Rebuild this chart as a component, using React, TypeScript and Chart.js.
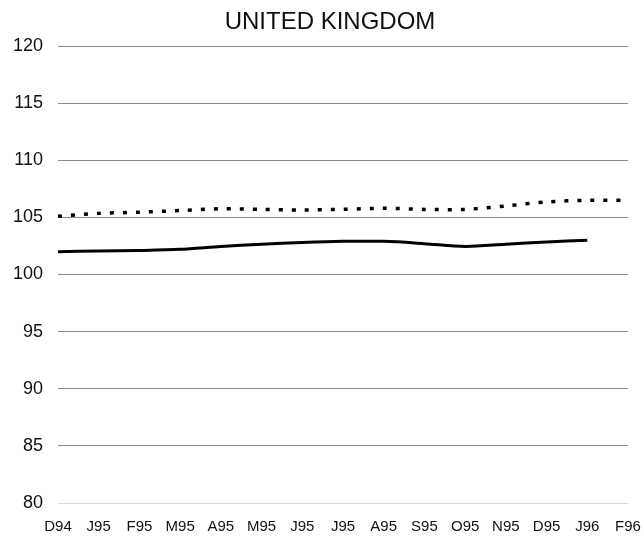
import React, { useEffect, useRef } from "react";
import { Chart, registerables } from "chart.js";

Chart.register(...registerables);

const TITLE = "UNITED KINGDOM";
const MONTHS = ["D94", "J95", "F95", "M95", "A95", "M95", "J95", "J95", "A95", "S95", "O95", "N95", "D95", "J96", "F96"];
const SOLID_SERIES = [102.0, 102.05, 102.1, 102.2, 102.45, 102.65, 102.8, 102.9, 102.9, 102.7, 102.45, 102.65, 102.85, 103.0, null];
const DASHED_SERIES = [105.1, 105.35, 105.45, 105.6, 105.75, 105.7, 105.65, 105.7, 105.8, 105.7, 105.7, 106.0, 106.35, 106.5, 106.5];
const Y_MIN = 80;
const Y_MAX = 120;
const Y_STEP = 5;

const FONT = '"Liberation Sans", Arial, Helvetica, sans-serif';

const titlePlugin = {
  id: "customTitle",
  afterDraw(chart: any) {
    const { ctx, width } = chart;
    ctx.save();
    ctx.font = `24px ${FONT}`;
    ctx.fillStyle = "#111";
    ctx.textAlign = "center";
    ctx.textBaseline = "alphabetic";
    ctx.fillText(TITLE, width / 2 + 8, 29);
    ctx.restore();
  },
};

export default function App() {
  const ref = useRef<HTMLCanvasElement | null>(null);

  useEffect(() => {
    if (!ref.current) return;
    const chart = new Chart(ref.current, {
      type: "line",
      data: {
        labels: MONTHS,
        datasets: [
          {
            label: "solid",
            data: SOLID_SERIES,
            borderColor: "#000",
            borderWidth: 3,
            pointRadius: 0,
            tension: 0.3,
            fill: false,
            spanGaps: false,
          },
          {
            label: "dashed",
            data: DASHED_SERIES,
            borderColor: "#000",
            borderWidth: 3.5,
            borderDash: [4, 9],
            borderCapStyle: "butt",
            pointRadius: 0,
            tension: 0.3,
            fill: false,
          },
        ],
      },
      options: {
        responsive: false,
        animation: false,
        layout: { padding: { top: 46, right: 16, left: 0, bottom: 0 } },
        plugins: {
          legend: { display: false },
          title: { display: false },
          tooltip: { enabled: false },
        },
        scales: {
          x: {
            offset: false,
            grid: { display: false, drawTicks: false },
            border: { display: false },
            ticks: {
              color: "#111",
              font: { family: FONT, size: 15 },
              padding: 15,
              maxRotation: 0,
              autoSkip: false,
            },
            afterFit(scale: any) {
              scale.height = 34;
              scale.paddingLeft = 0;
              scale.paddingRight = 0;
            },
          },
          y: {
            min: Y_MIN,
            max: Y_MAX,
            border: { display: false },
            grid: {
              drawTicks: false,
              color: (c: any) => (c.tick && c.tick.value === Y_MIN ? "#d8d8d8" : "#8a8a8a"),
              lineWidth: 1,
            },
            ticks: {
              stepSize: Y_STEP,
              color: "#111",
              font: { family: FONT, size: 18 },
              padding: 15,
            },
            afterFit(scale: any) {
              scale.width = 58;
            },
          },
        },
      },
      plugins: [titlePlugin],
    });
    return () => chart.destroy();
  }, []);

  return (
    <div style={{ position: "fixed", left: 0, top: 0, width: 644, height: 537, background: "#fff" }}>
      <canvas ref={ref} width={644} height={537} />
    </div>
  );
}
